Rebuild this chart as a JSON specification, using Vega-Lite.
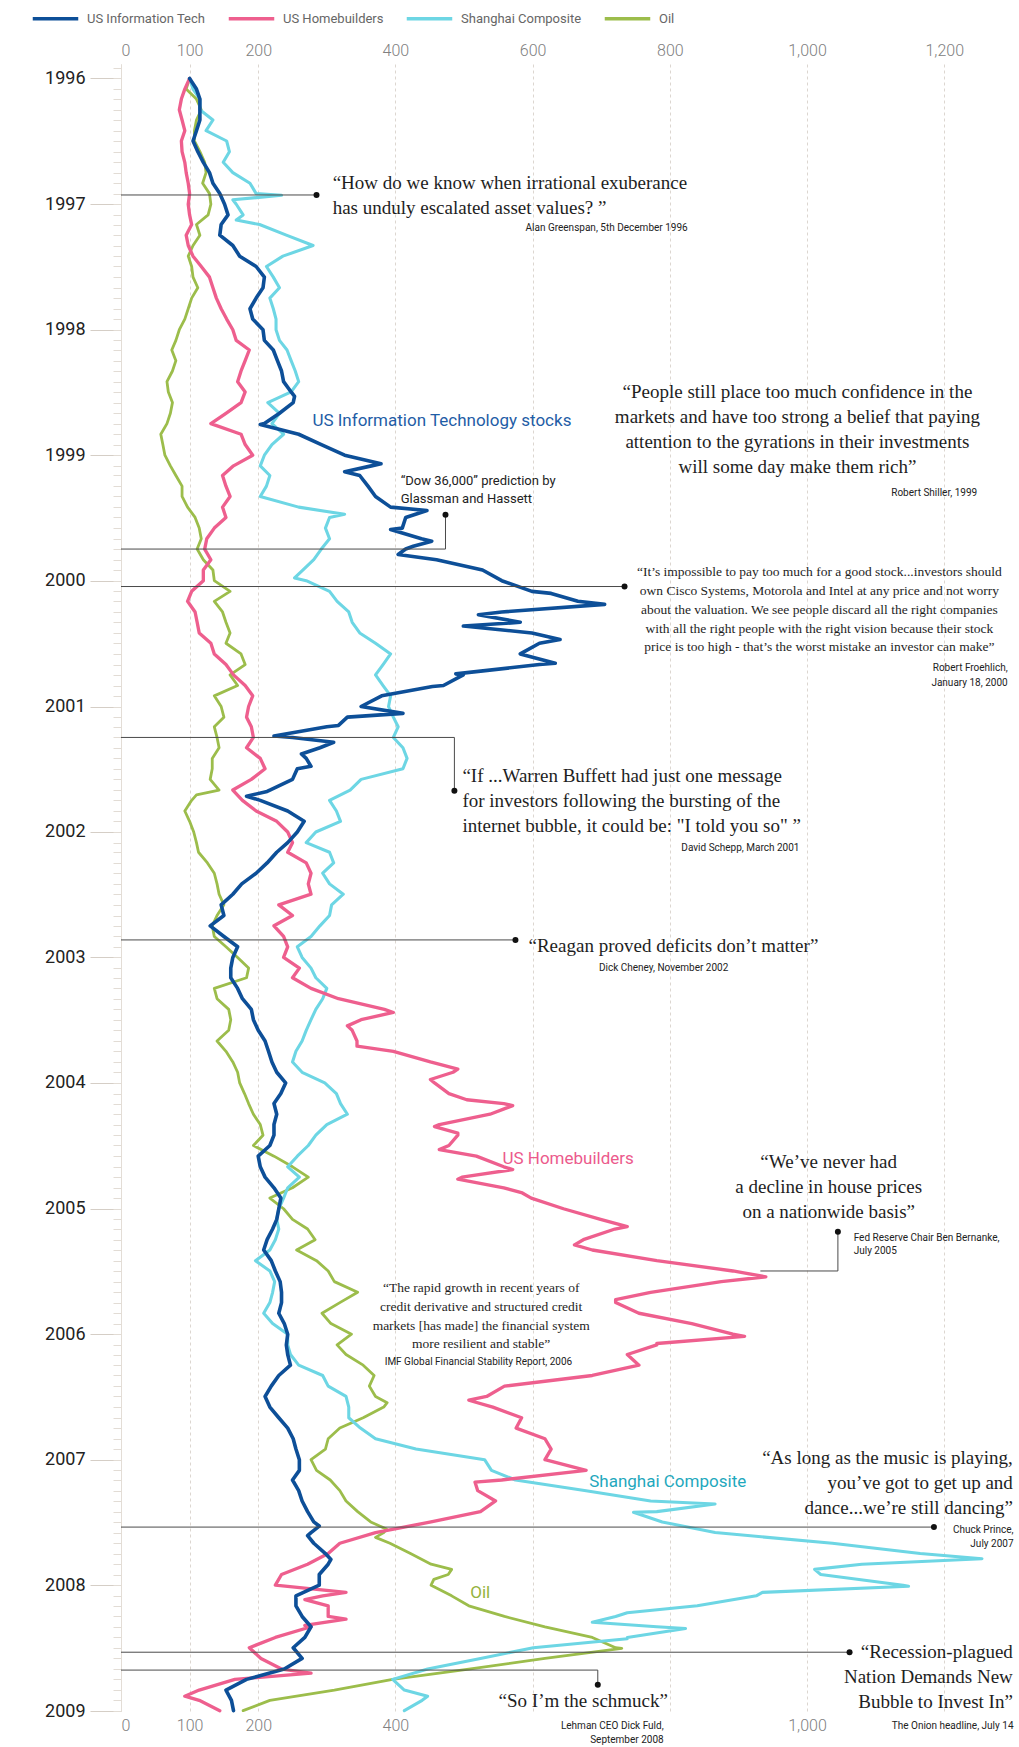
{
  "$schema": "https://vega.github.io/schema/vega-lite/v6.json",
  "width": 898,
  "height": 1647,
  "autosize": {"type": "none"},
  "padding": {"left": 121, "top": 64, "right": 0, "bottom": 36},
  "background": "white",
  "config": {"view": {"stroke": null}, "font": "Roboto"},
  "resolve": {"axis": {"x": "independent", "y": "independent"}, "scale": {"color": "independent"}},
  "datasets": {
    "series": [
      {"d":"1996-01-01","it":100,"hb":100,"sh":100,"oil":100},
      {"d":"1996-02-01","it":110,"hb":93,"sh":105,"oil":95},
      {"d":"1996-03-01","it":115,"hb":88,"sh":115,"oil":110},
      {"d":"1996-04-01","it":115,"hb":85,"sh":115,"oil":117},
      {"d":"1996-05-01","it":115,"hb":89,"sh":134,"oil":110},
      {"d":"1996-06-01","it":110,"hb":93,"sh":124,"oil":107},
      {"d":"1996-07-01","it":105,"hb":88,"sh":154,"oil":107},
      {"d":"1996-08-01","it":112,"hb":89,"sh":158,"oil":115},
      {"d":"1996-09-01","it":120,"hb":93,"sh":149,"oil":122},
      {"d":"1996-10-01","it":129,"hb":95,"sh":163,"oil":124},
      {"d":"1996-11-01","it":134,"hb":98,"sh":188,"oil":119},
      {"d":"1996-12-01","it":144,"hb":100,"sh":197,"oil":129},
      {"d":"1996-12-06","sh":234},
      {"d":"1996-12-19","sh":163},
      {"d":"1997-01-01","it":151,"hb":98,"sh":168,"oil":131},
      {"d":"1997-02-01","it":156,"hb":100,"sh":178,"oil":127},
      {"d":"1997-02-16","sh":168},
      {"d":"1997-03-01","it":146,"hb":103,"sh":202,"oil":110},
      {"d":"1997-04-01","it":144,"hb":95,"sh":241,"oil":115},
      {"d":"1997-05-01","it":163,"hb":98,"sh":280,"oil":105},
      {"d":"1997-06-01","it":173,"hb":105,"sh":236,"oil":98},
      {"d":"1997-07-01","it":197,"hb":117,"sh":212,"oil":103},
      {"d":"1997-08-01","it":209,"hb":129,"sh":222,"oil":105},
      {"d":"1997-09-01","it":207,"hb":134,"sh":231,"oil":112},
      {"d":"1997-10-01","it":197,"hb":139,"sh":217,"oil":103},
      {"d":"1997-11-01","it":188,"hb":146,"sh":222,"oil":98},
      {"d":"1997-12-01","it":192,"hb":154,"sh":226,"oil":93},
      {"d":"1998-01-01","it":207,"hb":163,"sh":226,"oil":85},
      {"d":"1998-02-01","it":209,"hb":168,"sh":231,"oil":80},
      {"d":"1998-03-01","it":222,"hb":187,"sh":242,"oil":74},
      {"d":"1998-04-01","it":228,"hb":181,"sh":248,"oil":80},
      {"d":"1998-05-01","it":234,"hb":175,"sh":254,"oil":75},
      {"d":"1998-06-01","it":237,"hb":170,"sh":259,"oil":67},
      {"d":"1998-07-01","it":248,"hb":181,"sh":248,"oil":69},
      {"d":"1998-07-14","it":253},
      {"d":"1998-08-01","it":251,"hb":175,"sh":214,"oil":75},
      {"d":"1998-09-01","it":231,"hb":153,"sh":231,"oil":72},
      {"d":"1998-10-01","it":209,"hb":131,"sh":220,"oil":67},
      {"d":"1998-10-04","it":203},
      {"d":"1998-11-01","it":259,"hb":175,"sh":237,"oil":58},
      {"d":"1998-12-01","it":292,"hb":181,"sh":220,"oil":61},
      {"d":"1999-01-01","it":326,"hb":192,"sh":209,"oil":64},
      {"d":"1999-01-26","it":379},
      {"d":"1999-02-01","it":365,"hb":164,"sh":203,"oil":72},
      {"d":"1999-02-18","it":326},
      {"d":"1999-03-01","it":348,"hb":148,"sh":217,"oil":80},
      {"d":"1999-04-01","it":360,"hb":153,"sh":212,"oil":89},
      {"d":"1999-05-01","it":371,"hb":159,"sh":203,"oil":89},
      {"d":"1999-06-01","it":393,"hb":148,"sh":259,"oil":97},
      {"d":"1999-06-11","it":446},
      {"d":"1999-06-22","sh":326},
      {"d":"1999-07-01","it":415,"hb":153,"sh":304,"oil":108},
      {"d":"1999-08-01","it":410,"hb":136,"sh":298,"oil":114},
      {"d":"1999-08-05","it":393},
      {"d":"1999-09-01","it":438,"hb":125,"sh":304,"oil":117},
      {"d":"1999-09-08","it":453},
      {"d":"1999-09-23","it":426},
      {"d":"1999-10-01","it":415,"hb":122,"sh":292,"oil":111},
      {"d":"1999-10-17","it":404},
      {"d":"1999-11-01","it":460,"hb":131,"sh":281,"oil":120},
      {"d":"1999-12-01","it":527,"hb":120,"sh":265,"oil":134},
      {"d":"1999-12-24","sh":253},
      {"d":"2000-01-01","it":555,"hb":120,"sh":270,"oil":136},
      {"d":"2000-02-01","it":599,"hb":103,"sh":304,"oil":159},
      {"d":"2000-02-07","it":627},
      {"d":"2000-03-01","it":666,"hb":97,"sh":315,"oil":136},
      {"d":"2000-03-10","it":705},
      {"d":"2000-04-01","it":555,"hb":108,"sh":332,"oil":148},
      {"d":"2000-04-09","it":521},
      {"d":"2000-05-01","it":582,"hb":111,"sh":337,"oil":153},
      {"d":"2000-05-12","it":499},
      {"d":"2000-06-01","it":599,"hb":114,"sh":348,"oil":159},
      {"d":"2000-06-20","it":640},
      {"d":"2000-07-01","it":610,"hb":131,"sh":371,"oil":153},
      {"d":"2000-08-01","it":582,"hb":136,"sh":393,"oil":175},
      {"d":"2000-08-28","it":633},
      {"d":"2000-09-01","it":610,"hb":153,"sh":382,"oil":181},
      {"d":"2000-09-28","it":488},
      {"d":"2000-10-01","it":499,"hb":164,"sh":371,"oil":159},
      {"d":"2000-11-01","it":470,"hb":181,"sh":382,"oil":170},
      {"d":"2000-11-04","it":454},
      {"d":"2000-12-01","it":380,"hb":192,"sh":393,"oil":136},
      {"d":"2001-01-01","it":350,"hb":186,"sh":390,"oil":146},
      {"d":"2001-01-21","it":411},
      {"d":"2001-02-01","it":330,"hb":183,"sh":397,"oil":150},
      {"d":"2001-02-25","it":317},
      {"d":"2001-03-01","it":300,"hb":190,"sh":404,"oil":136},
      {"d":"2001-03-28","it":223},
      {"d":"2001-04-01","it":250,"hb":193,"sh":397,"oil":140},
      {"d":"2001-04-15","it":310},
      {"d":"2001-05-01","it":290,"hb":183,"sh":411,"oil":143},
      {"d":"2001-05-19","it":263},
      {"d":"2001-06-01","it":270,"hb":203,"sh":417,"oil":133},
      {"d":"2001-06-24","it":277},
      {"d":"2001-07-01","it":257,"hb":210,"sh":411,"oil":133},
      {"d":"2001-08-01","it":250,"hb":190,"sh":350,"oil":130},
      {"d":"2001-09-01","it":217,"hb":163,"sh":334,"oil":143},
      {"d":"2001-09-05","it":213},
      {"d":"2001-09-15","oil":110},
      {"d":"2001-09-19","it":183},
      {"d":"2001-10-01","it":203,"hb":177,"sh":304,"oil":103},
      {"d":"2001-11-01","it":243,"hb":197,"sh":314,"oil":93},
      {"d":"2001-12-01","it":267,"hb":227,"sh":320,"oil":100},
      {"d":"2002-01-01","it":257,"hb":243,"sh":284,"oil":106},
      {"d":"2002-02-01","it":243,"hb":250,"sh":270,"oil":110},
      {"d":"2002-03-01","it":227,"hb":243,"sh":304,"oil":113},
      {"d":"2002-04-01","it":213,"hb":270,"sh":310,"oil":126},
      {"d":"2002-05-01","it":197,"hb":277,"sh":294,"oil":136},
      {"d":"2002-06-01","it":176,"hb":273,"sh":304,"oil":140},
      {"d":"2002-07-01","it":163,"hb":277,"sh":324,"oil":143},
      {"d":"2002-08-01","it":146,"hb":230,"sh":307,"oil":150},
      {"d":"2002-09-01","it":150,"hb":250,"sh":304,"oil":140},
      {"d":"2002-10-01","it":130,"hb":223,"sh":290,"oil":133},
      {"d":"2002-11-01","it":150,"hb":237,"sh":277,"oil":136},
      {"d":"2002-12-01","it":170,"hb":243,"sh":257,"oil":153},
      {"d":"2003-01-01","it":163,"hb":237,"sh":264,"oil":170},
      {"d":"2003-02-01","it":160,"hb":260,"sh":277,"oil":186},
      {"d":"2003-03-01","it":160,"hb":250,"sh":284,"oil":183},
      {"d":"2003-04-01","it":170,"hb":277,"sh":300,"oil":136},
      {"d":"2003-05-01","it":177,"hb":317,"sh":294,"oil":140},
      {"d":"2003-06-01","it":190,"hb":384,"sh":284,"oil":157},
      {"d":"2003-06-10","hb":397},
      {"d":"2003-07-01","it":193,"hb":350,"sh":277,"oil":160},
      {"d":"2003-07-19","hb":330},
      {"d":"2003-08-01","it":200,"hb":337,"sh":270,"oil":157},
      {"d":"2003-09-01","it":210,"hb":344,"sh":264,"oil":140},
      {"d":"2003-09-16","hb":344},
      {"d":"2003-10-01","it":215,"hb":397,"sh":255,"oil":153},
      {"d":"2003-11-01","it":220,"hb":451,"sh":250,"oil":163},
      {"d":"2003-11-22","hb":491},
      {"d":"2003-12-01","it":227,"hb":484,"sh":264,"oil":170},
      {"d":"2003-12-22","hb":451},
      {"d":"2004-01-01","it":240,"hb":457,"sh":297,"oil":173},
      {"d":"2004-02-01","it":233,"hb":478,"sh":314,"oil":180},
      {"d":"2004-02-19","hb":504},
      {"d":"2004-03-01","it":223,"hb":558,"sh":320,"oil":186},
      {"d":"2004-03-07","hb":571},
      {"d":"2004-04-01","it":227,"hb":538,"sh":330,"oil":193},
      {"d":"2004-05-01","it":223,"hb":464,"sh":300,"oil":203},
      {"d":"2004-05-07","hb":457},
      {"d":"2004-05-26","hb":491},
      {"d":"2004-06-01","it":223,"hb":491,"sh":284,"oil":207},
      {"d":"2004-07-01","it":217,"hb":478,"sh":273,"oil":193},
      {"d":"2004-07-13","hb":464},
      {"d":"2004-08-01","it":200,"hb":518,"sh":257,"oil":223},
      {"d":"2004-09-01","it":203,"hb":558,"sh":243,"oil":250},
      {"d":"2004-09-09","hb":571},
      {"d":"2004-10-01","it":210,"hb":497,"sh":260,"oil":273},
      {"d":"2004-10-07","hb":491},
      {"d":"2004-11-01","it":223,"hb":558,"sh":243,"oil":250},
      {"d":"2004-11-16","hb":585},
      {"d":"2004-12-01","it":233,"hb":598,"sh":237,"oil":217},
      {"d":"2005-01-01","it":230,"hb":645,"sh":230,"oil":237},
      {"d":"2005-02-01","it":227,"hb":699,"sh":227,"oil":250},
      {"d":"2005-02-22","hb":738},
      {"d":"2005-03-01","it":221,"hb":720,"sh":230,"oil":272},
      {"d":"2005-04-01","it":213,"hb":674,"sh":225,"oil":283},
      {"d":"2005-04-16","hb":661},
      {"d":"2005-05-01","it":208,"hb":687,"sh":217,"oil":256},
      {"d":"2005-06-01","it":219,"hb":781,"sh":196,"oil":285},
      {"d":"2005-07-01","it":225,"hb":892,"sh":217,"oil":302},
      {"d":"2005-07-18","hb":940},
      {"d":"2005-08-01","it":232,"hb":875,"sh":224,"oil":311},
      {"d":"2005-09-01","it":234,"hb":772,"sh":221,"oil":345},
      {"d":"2005-09-22","hb":721},
      {"d":"2005-10-01","it":234,"hb":721,"sh":217,"oil":319},
      {"d":"2005-11-01","it":230,"hb":755,"sh":208,"oil":293},
      {"d":"2005-12-01","it":238,"hb":832,"sh":221,"oil":306},
      {"d":"2006-01-01","it":243,"hb":892,"sh":243,"oil":336},
      {"d":"2006-01-07","hb":909},
      {"d":"2006-01-28","hb":781},
      {"d":"2006-02-01","it":241,"hb":781,"sh":243,"oil":315},
      {"d":"2006-03-01","it":243,"hb":738,"sh":247,"oil":328},
      {"d":"2006-04-01","it":247,"hb":755,"sh":259,"oil":353},
      {"d":"2006-05-01","it":230,"hb":687,"sh":294,"oil":369},
      {"d":"2006-06-01","it":219,"hb":559,"sh":302,"oil":362},
      {"d":"2006-07-01","it":210,"hb":533,"sh":328,"oil":371},
      {"d":"2006-07-12","hb":507},
      {"d":"2006-07-19","oil":388},
      {"d":"2006-08-01","it":217,"hb":542,"sh":332,"oil":383},
      {"d":"2006-09-01","it":230,"hb":584,"sh":332,"oil":353},
      {"d":"2006-10-01","it":243,"hb":576,"sh":349,"oil":319},
      {"d":"2006-11-01","it":251,"hb":618,"sh":371,"oil":302},
      {"d":"2006-12-01","it":255,"hb":627,"sh":430,"oil":298},
      {"d":"2007-01-01","it":260,"hb":618,"sh":530,"oil":277},
      {"d":"2007-02-01","it":260,"hb":678,"sh":540,"oil":285},
      {"d":"2007-03-01","it":250,"hb":555,"sh":575,"oil":305},
      {"d":"2007-03-07","hb":516},
      {"d":"2007-04-01","it":259,"hb":520,"sh":678,"oil":319},
      {"d":"2007-05-01","it":264,"hb":546,"sh":772,"oil":328},
      {"d":"2007-05-10","sh":866},
      {"d":"2007-06-01","it":272,"hb":524,"sh":781,"oil":345},
      {"d":"2007-06-03","sh":747},
      {"d":"2007-07-01","it":281,"hb":452,"sh":789,"oil":364},
      {"d":"2007-07-13","it":289},
      {"d":"2007-07-22","oil":387},
      {"d":"2007-08-01","it":277,"hb":371,"sh":866,"oil":383},
      {"d":"2007-08-10","it":272},
      {"d":"2007-08-15","oil":371},
      {"d":"2007-09-01","it":281,"hb":319,"sh":1037,"oil":392},
      {"d":"2007-10-01","it":298,"hb":302,"sh":1165,"oil":422},
      {"d":"2007-10-16","sh":1255},
      {"d":"2007-10-18","it":306},
      {"d":"2007-11-01","it":302,"hb":272,"sh":1080,"oil":452},
      {"d":"2007-11-16","sh":1011,"oil":482},
      {"d":"2007-12-01","it":289,"hb":234,"sh":1020,"oil":477},
      {"d":"2007-12-15","oil":456},
      {"d":"2008-01-01","it":289,"hb":225,"sh":1140,"oil":452},
      {"d":"2008-01-04","sh":1148},
      {"d":"2008-01-22","sh":935,"hb":328},
      {"d":"2008-02-01","it":255,"hb":294,"sh":926,"oil":482},
      {"d":"2008-02-12","hb":268},
      {"d":"2008-03-01","it":255,"hb":302,"sh":840,"oil":507},
      {"d":"2008-03-21","sh":738},
      {"d":"2008-04-01","it":264,"hb":302,"sh":721,"oil":559},
      {"d":"2008-04-09","hb":328},
      {"d":"2008-04-18","sh":687},
      {"d":"2008-04-27","hb":268},
      {"d":"2008-05-01","it":277,"hb":277,"sh":781,"oil":618},
      {"d":"2008-05-06","sh":823},
      {"d":"2008-06-01","it":268,"hb":225,"sh":738,"oil":687},
      {"d":"2008-06-05","sh":738},
      {"d":"2008-07-01","it":251,"hb":187,"sh":601,"oil":721},
      {"d":"2008-07-03","oil":730},
      {"d":"2008-08-01","it":264,"hb":204,"sh":524,"oil":618},
      {"d":"2008-09-01","it":238,"hb":234,"sh":447,"oil":507},
      {"d":"2008-09-13","hb":277},
      {"d":"2008-10-01","it":183,"hb":166,"sh":396,"oil":396},
      {"d":"2008-11-01","it":153,"hb":114,"sh":413,"oil":311},
      {"d":"2008-11-19","sh":447,"hb":93},
      {"d":"2008-12-01","it":161,"hb":114,"sh":439,"oil":217},
      {"d":"2008-12-31","it":164,"hb":144,"sh":413,"oil":178}
    ],
    "hleaders": [
      {"d":"1996-12-05","x1":0,"x2":285},
      {"d":"1999-10-01","x1":0,"x2":473},
      {"d":"2000-01-18","x1":0,"x2":734},
      {"d":"2001-04-01","x1":0,"x2":486},
      {"d":"2002-11-11","x1":0,"x2":575},
      {"d":"2005-07-01","x1":932,"x2":1045},
      {"d":"2007-07-16","x1":0,"x2":1185},
      {"d":"2008-07-14","x1":0,"x2":1062},
      {"d":"2008-09-04","x1":0,"x2":695}
    ],
    "vleaders": [
      {"x":473,"d1":"1999-06-23","d2":"1999-10-01"},
      {"x":486,"d1":"2001-04-01","d2":"2001-09-03"},
      {"x":1045,"d1":"2005-03-09","d2":"2005-07-01"},
      {"x":695,"d1":"2008-09-04","d2":"2008-10-17"}
    ],
    "dots": [
      {"x":285,"d":"1996-12-05"},
      {"x":473,"d":"1999-06-23"},
      {"x":734,"d":"2000-01-18"},
      {"x":486,"d":"2001-09-03"},
      {"x":575,"d":"2002-11-11"},
      {"x":1045,"d":"2005-03-09"},
      {"x":1185,"d":"2007-07-16"},
      {"x":1062,"d":"2008-07-14"},
      {"x":695,"d":"2008-10-17"}
    ],
    "quotesLeft": [
      {"d":"1996-11-17","x":308.5,"t":["“How do we know when irrational exuberance","has unduly escalated asset values? ”"]},
      {"d":"2001-08-10","x":497.7,"t":["“If ...Warren Buffett had just one message","for investors following the bursting of the","internet bubble, it could be: \"I told you so\" ”"]},
      {"d":"2002-12-17","x":594,"t":["“Reagan proved deficits don’t matter”"]}
    ],
    "quotesCenter": [
      {"d":"1998-07-18","x":986,"t":["“People still place too much confidence in the","markets and have too strong a belief that paying","attention to the gyrations in their investments","will some day make them rich”"]},
      {"d":"2004-09-03","x":1031.6,"t":["“We’ve never had","a decline in house prices","on a nationwide basis”"]},
      {"d":"2008-12-21","x":673.9,"t":["“So I’m the schmuck”"]}
    ],
    "quotesRight": [
      {"d":"2007-01-13","x":1300,"t":["“As long as the music is playing,","you’ve got to get up and","dance...we’re still dancing”"]},
      {"d":"2008-07-30","x":1300,"t":["“Recession-plagued","Nation Demands New","Bubble to Invest In”"]}
    ],
    "quotesSmall": [
      {"d":"1999-12-19","x":1018,"t":["“It’s impossible to pay too much for a good stock...investors should","own Cisco Systems, Motorola and Intel at any price and not worry","about the valuation. We see people discard all the right companies","with all the right people with the right vision because their stock","price is too high - that’s the worst mistake an investor can make”"]},
      {"d":"2005-08-31","x":525,"t":["“The rapid growth in recent years of","credit derivative and structured credit","markets [has made] the financial system","more resilient and stable”"]}
    ],
    "attrRight": [
      {"d":"1997-03-20","x":826,"t":["Alan Greenspan, 5th December 1996"]},
      {"d":"1999-04-29","x":1248,"t":["Robert Shiller, 1999"]},
      {"d":"2000-09-20","x":1292.5,"t":["Robert Froehlich,","January 18, 2000"]},
      {"d":"2002-02-25","x":989,"t":["David Schepp, March 2001"]},
      {"d":"2007-08-02","x":1301,"t":["Chuck Prince,","July 2007"]},
      {"d":"2009-02-21","x":1301,"t":["The Onion headline, July 14"]},
      {"d":"2009-02-21","x":791,"t":["Lehman CEO Dick Fuld,","September 2008"]}
    ],
    "attrCenter": [
      {"d":"2003-02-10","x":791,"t":["Dick Cheney, November 2002"]},
      {"d":"2006-03-31","x":521,"t":["IMF Global Financial Stability Report, 2006"]}
    ],
    "attrLeft": [
      {"d":"2005-04-04","x":1068,"t":["Fed Reserve Chair Ben Bernanke,","July 2005"]}
    ],
    "dow": [
      {"d":"1999-03-28","x":407.7,"t":["“Dow 36,000” prediction by","Glassman and Hassett"]}
    ],
    "labels": [
      {"d":"1998-10-08","x":279,"s":"it","t":"US Information Technology stocks"},
      {"d":"2004-08-24","x":556,"s":"hb","t":"US Homebuilders"},
      {"d":"2007-03-22","x":682.5,"s":"sh","t":"Shanghai Composite"},
      {"d":"2008-02-07","x":509,"s":"oil","t":"Oil"}
    ]
  },
  "layer": [
    {
      "data": {"name": "series"},
      "transform": [
        {"fold": ["oil", "sh", "hb", "it"], "as": ["k", "v"]},
        {"filter": "isValid(datum.v)"}
      ],
      "mark": {"type": "line", "strokeJoin": "round", "strokeCap": "round"},
      "encoding": {
        "x": {"field": "v", "type": "quantitative",
          "scale": {"domain": [0, 1309], "nice": false, "zero": false},
          "axis": {"orient": "top", "values": [0,100,200,400,600,800,1000,1200], "format": ",d",
            "grid": true, "gridDash": [3,3], "gridColor": "#dcd6d0", "gridWidth": 1,
            "ticks": false, "domain": false, "labelPadding": 6, "labelFontSize": 16,
            "labelFontWeight": 300, "labelColor": "#808080", "labelFont": "Roboto", "title": null}},
        "y": {"field": "d", "type": "temporal",
          "scale": {"domain": [{"year":1995,"month":11,"date":20},{"year":2009,"month":1,"date":1}], "reverse": true, "nice": false},
          "axis": {"orient": "left",
            "values": [{"year":1996},{"year":1997},{"year":1998},{"year":1999},{"year":2000},{"year":2001},{"year":2002},{"year":2003},{"year":2004},{"year":2005},{"year":2006},{"year":2007},{"year":2008},{"year":2009}],
            "format": "%Y", "tickSize": 31, "tickColor": "#d5cec6", "domainColor": "#e3ddd6",
            "labelFontSize": 18, "labelColor": "#222222", "labelPadding": 5, "labelFont": "Roboto",
            "grid": false, "title": null}},
        "order": {"field": "d", "type": "temporal"},
        "color": {"field": "k", "type": "nominal",
          "scale": {"domain": ["it","hb","sh","oil"], "range": ["#0d4f98","#ee5f8e","#6dd6e4","#9cbd4b"]},
          "legend": {"orient": "none", "legendX": -90, "legendY": -70, "direction": "horizontal",
            "title": null, "symbolType": "stroke", "symbolSize": 2070, "symbolStrokeWidth": 3.5,
            "labelFontSize": 13, "labelColor": "#666666", "labelFont": "Roboto",
            "columnPadding": 15, "labelOffset": 7, "padding": 0,
            "labelExpr": "datum.label=='it'?'US Information Tech':datum.label=='hb'?'US Homebuilders':datum.label=='sh'?'Shanghai Composite':'Oil'"}},
        "strokeWidth": {"field": "k", "type": "nominal",
          "scale": {"domain": ["it","hb","sh","oil"], "range": [3.6, 2.8, 2.8, 2.8]}, "legend": null}
      }
    },
    {
      "data": {"name": "hleaders"},
      "mark": {"type": "rule", "color": "#4a4a4a", "strokeWidth": 1},
      "encoding": {
        "x": {"field": "x1", "type": "quantitative",
          "axis": {"orient": "bottom", "values": [0,100,200,400,1000], "format": ",d",
            "grid": false, "ticks": false, "domain": false, "labelPadding": 6, "labelFontSize": 16,
            "labelFontWeight": 300, "labelColor": "#808080", "labelFont": "Roboto", "title": null}},
        "x2": {"field": "x2"},
        "y": {"field": "d", "type": "temporal",
          "axis": {"orient": "left", "tickCount": {"interval": "month", "step": 1}, "labels": false,
            "tickSize": 8, "domain": false, "grid": false, "tickColor": "#e2dcd5", "title": null}}
      }
    },
    {
      "data": {"name": "vleaders"},
      "mark": {"type": "rule", "color": "#4a4a4a", "strokeWidth": 1},
      "encoding": {
        "x": {"field": "x", "type": "quantitative", "axis": null},
        "y": {"field": "d1", "type": "temporal", "axis": null},
        "y2": {"field": "d2"}
      }
    },
    {
      "data": {"name": "dots"},
      "mark": {"type": "point", "filled": true, "color": "#111111", "size": 36, "opacity": 1},
      "encoding": {
        "x": {"field": "x", "type": "quantitative", "axis": null},
        "y": {"field": "d", "type": "temporal", "axis": null}
      }
    },
    {
      "data": {"name": "quotesLeft"},
      "mark": {"type": "text", "align": "left", "baseline": "alphabetic", "font": "Liberation Serif", "fontSize": 19, "lineHeight": 25, "color": "#1e1e1e"},
      "encoding": {
        "x": {"field": "x", "type": "quantitative", "axis": null},
        "y": {"field": "d", "type": "temporal", "axis": null},
        "text": {"field": "t"}
      }
    },
    {
      "data": {"name": "quotesCenter"},
      "mark": {"type": "text", "align": "center", "baseline": "alphabetic", "font": "Liberation Serif", "fontSize": 19, "lineHeight": 25, "color": "#1e1e1e"},
      "encoding": {
        "x": {"field": "x", "type": "quantitative", "axis": null},
        "y": {"field": "d", "type": "temporal", "axis": null},
        "text": {"field": "t"}
      }
    },
    {
      "data": {"name": "quotesRight"},
      "mark": {"type": "text", "align": "right", "baseline": "alphabetic", "font": "Liberation Serif", "fontSize": 19, "lineHeight": 25, "color": "#1e1e1e"},
      "encoding": {
        "x": {"field": "x", "type": "quantitative", "axis": null},
        "y": {"field": "d", "type": "temporal", "axis": null},
        "text": {"field": "t"}
      }
    },
    {
      "data": {"name": "quotesSmall"},
      "mark": {"type": "text", "align": "center", "baseline": "alphabetic", "font": "Liberation Serif", "fontSize": 13.5, "lineHeight": 18.8, "color": "#1e1e1e"},
      "encoding": {
        "x": {"field": "x", "type": "quantitative", "axis": null},
        "y": {"field": "d", "type": "temporal", "axis": null},
        "text": {"field": "t"}
      }
    },
    {
      "data": {"name": "attrRight"},
      "mark": {"type": "text", "align": "right", "baseline": "alphabetic", "font": "Roboto", "fontSize": 10, "lineHeight": 14.5, "color": "#222222"},
      "encoding": {
        "x": {"field": "x", "type": "quantitative", "axis": null},
        "y": {"field": "d", "type": "temporal", "axis": null},
        "text": {"field": "t"}
      }
    },
    {
      "data": {"name": "attrCenter"},
      "mark": {"type": "text", "align": "center", "baseline": "alphabetic", "font": "Roboto", "fontSize": 10, "lineHeight": 14.5, "color": "#222222"},
      "encoding": {
        "x": {"field": "x", "type": "quantitative", "axis": null},
        "y": {"field": "d", "type": "temporal", "axis": null},
        "text": {"field": "t"}
      }
    },
    {
      "data": {"name": "attrLeft"},
      "mark": {"type": "text", "align": "left", "baseline": "alphabetic", "font": "Roboto", "fontSize": 10, "lineHeight": 13.5, "color": "#222222"},
      "encoding": {
        "x": {"field": "x", "type": "quantitative", "axis": null},
        "y": {"field": "d", "type": "temporal", "axis": null},
        "text": {"field": "t"}
      }
    },
    {
      "data": {"name": "dow"},
      "mark": {"type": "text", "align": "left", "baseline": "alphabetic", "font": "Roboto", "fontSize": 13, "lineHeight": 18.5, "color": "#222222"},
      "encoding": {
        "x": {"field": "x", "type": "quantitative", "axis": null},
        "y": {"field": "d", "type": "temporal", "axis": null},
        "text": {"field": "t"}
      }
    },
    {
      "data": {"name": "labels"},
      "mark": {"type": "text", "align": "left", "baseline": "alphabetic", "font": "Roboto", "fontSize": 17},
      "encoding": {
        "x": {"field": "x", "type": "quantitative", "axis": null},
        "y": {"field": "d", "type": "temporal", "axis": null},
        "text": {"field": "t"},
        "color": {"field": "s", "type": "nominal",
          "scale": {"domain": ["it","hb","sh","oil"], "range": ["#1f5da6","#ec5a8c","#1fa8bd","#95b23d"]}, "legend": null}
      }
    }
  ]
}
